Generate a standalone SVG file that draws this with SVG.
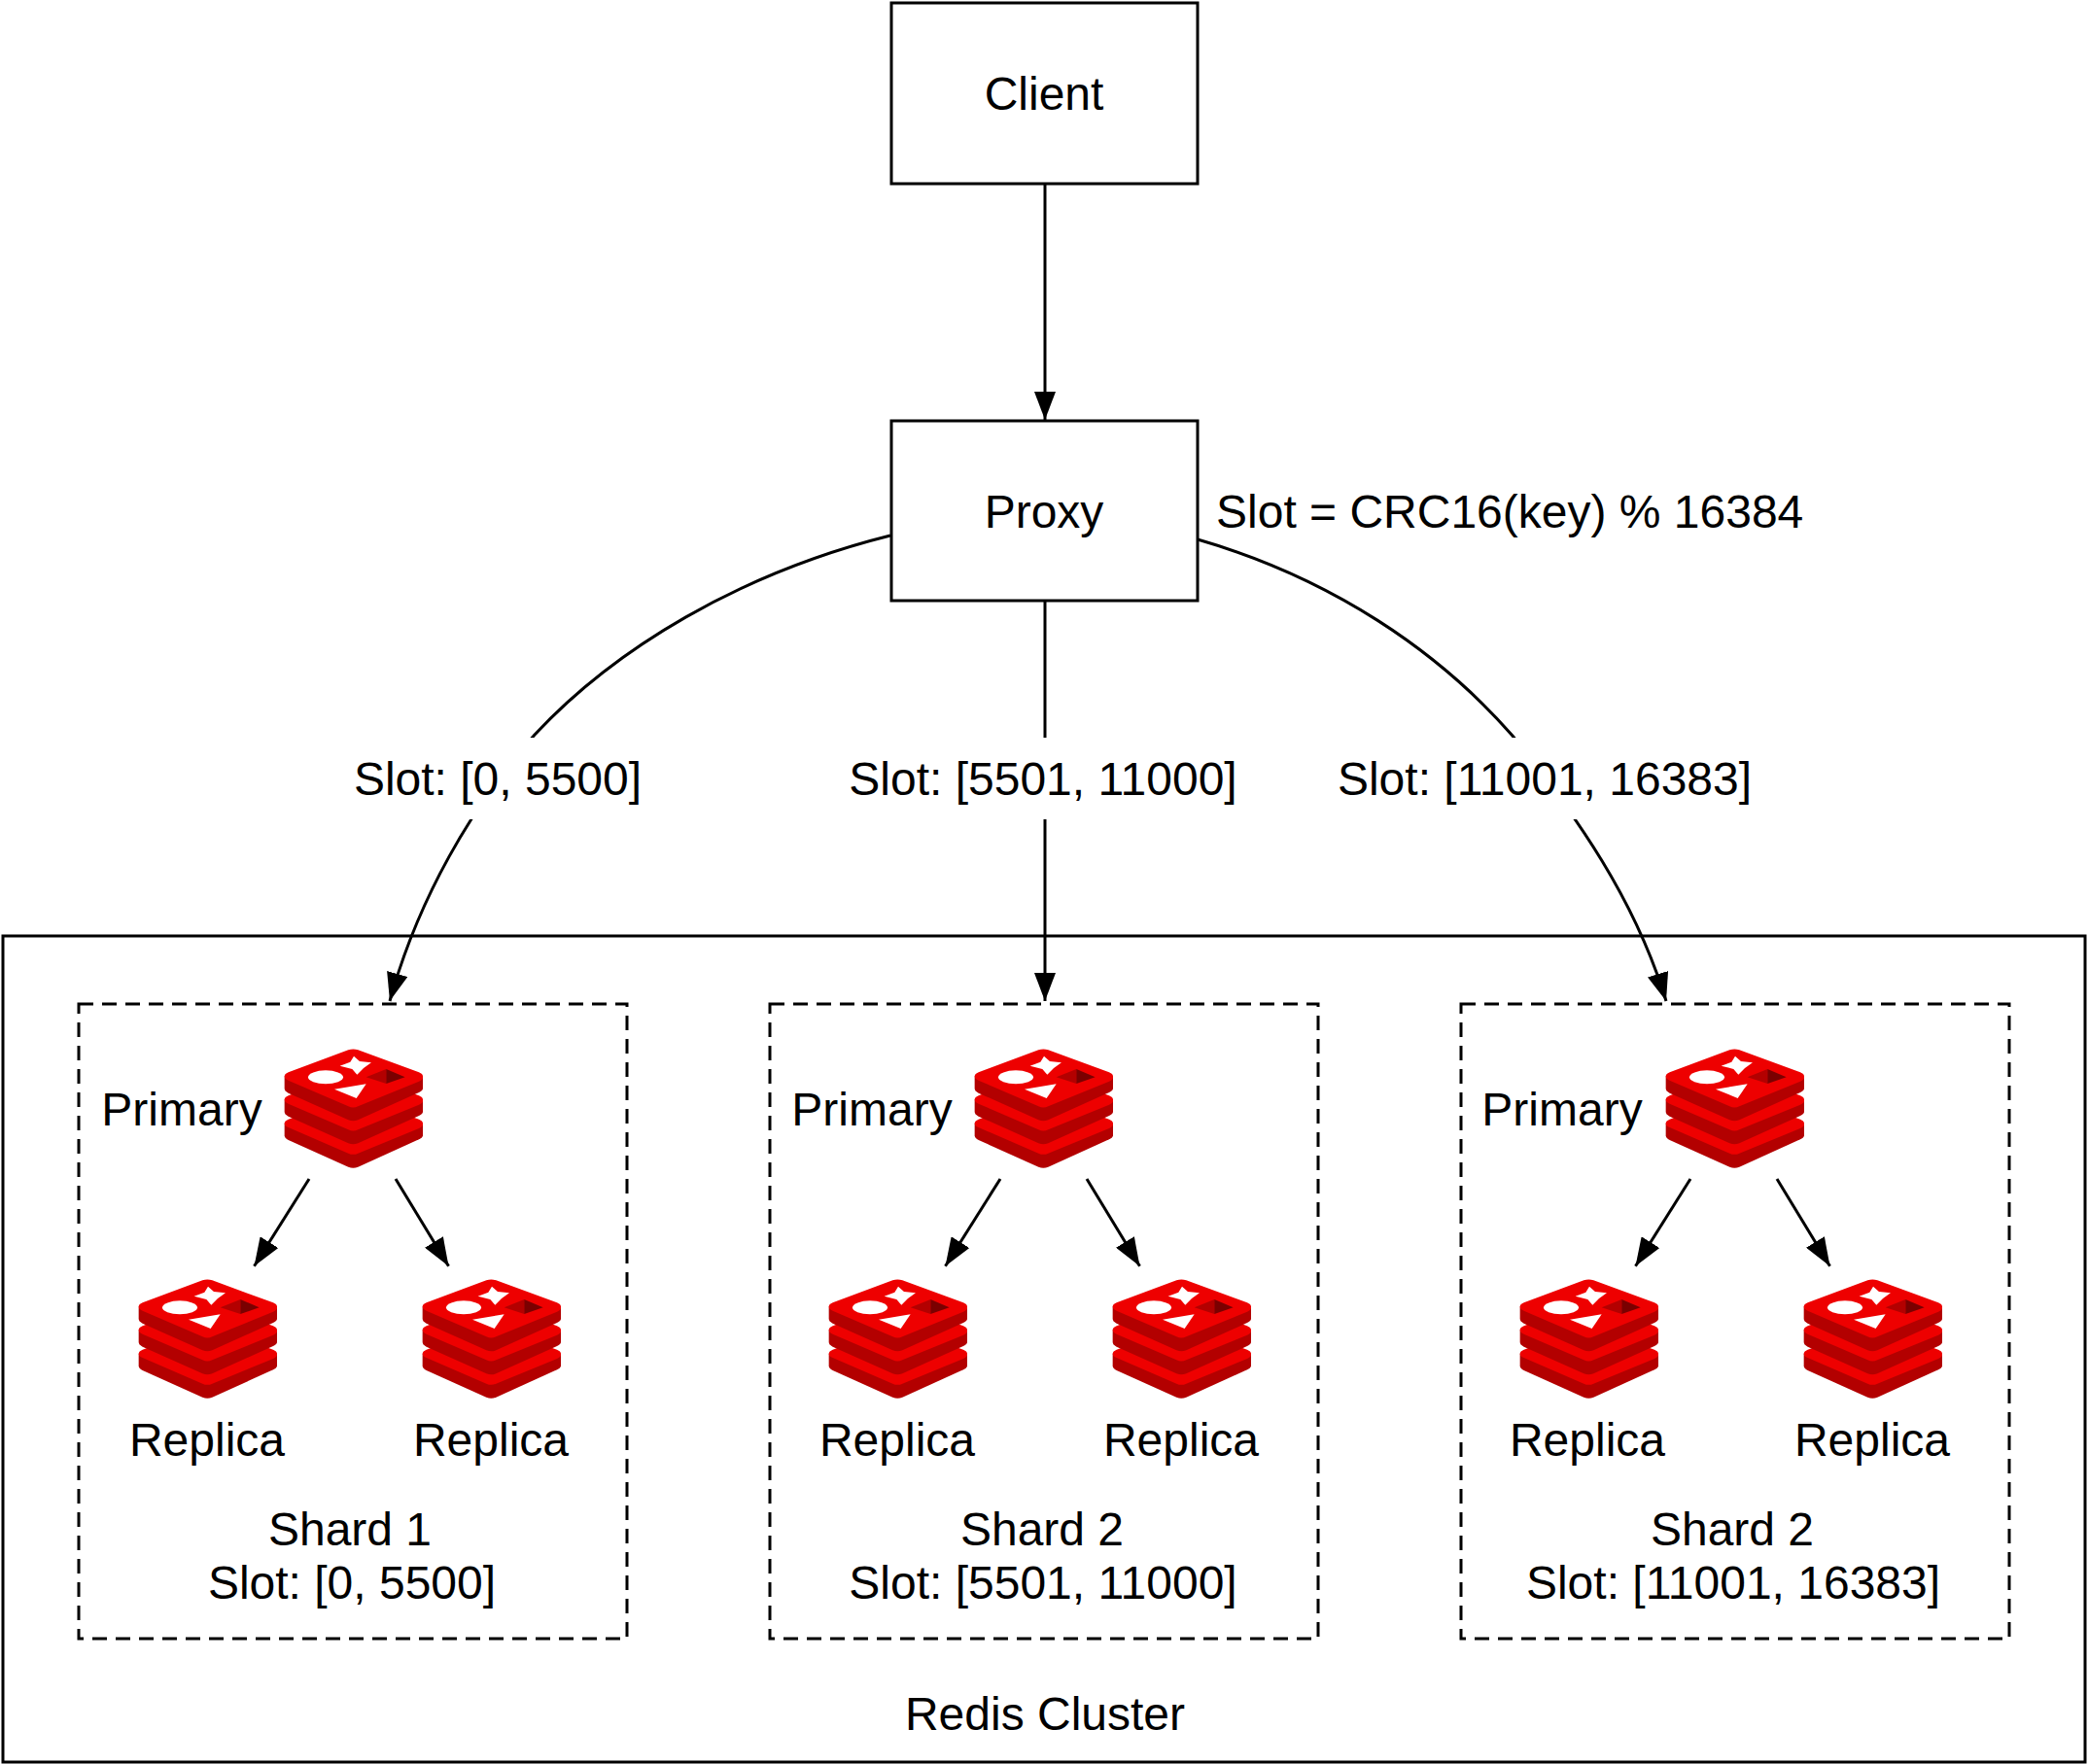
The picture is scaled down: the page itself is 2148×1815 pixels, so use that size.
<svg xmlns="http://www.w3.org/2000/svg" width="2148" height="1815" viewBox="0 0 2148 1815">
<style>
text{font-family:"Liberation Sans",Arial,sans-serif;font-size:48px;fill:#000;text-anchor:middle}
.box{fill:#fff;stroke:#000;stroke-width:3}
.shard{fill:none;stroke:#000;stroke-width:3;stroke-dasharray:15 9}
.edge{fill:none;stroke:#000;stroke-width:3}
.lt{fill:#ee0000}.dk{fill:#b30000}
</style>
<defs>
<marker id="arrow" markerUnits="userSpaceOnUse" markerWidth="30" markerHeight="22" refX="29" refY="11" orient="auto"><path d="M0 0L29 11L0 22Z" fill="#000"/></marker>
<g id="layer">
<path class="dk" d="M38 112V150Q38 158 50 164L235 247Q250 253 265 247L453 162Q465 156 465 150V112Z"/>
<path class="lt" d="M38 112Q38 105 50 100L235 31Q250 26 265 31L453 100Q465 105 465 112V116Q465 122 453 128L265 205Q250 212 235 205L50 125Q38 120 38 112Z"/>
</g>
<symbol id="redis" viewBox="0 0 510 420" width="170" height="140">
<use href="#layer" y="145"/><use href="#layer" y="72"/><use href="#layer"/>
<path fill="#fff" d="M252 50L270 66L306 70L282 87L262 107L247 90L209 80L241 68Z"/>
<ellipse fill="#fff" cx="165" cy="115" rx="54" ry="21"/>
<path fill="#fff" d="M192 152L290 136L260 180Z"/>
<path fill="#b30000" d="M290 115L352 90V135Z"/>
<path fill="#7a0000" d="M352 90L410 115L352 135Z"/>
</symbol>
</defs>
<rect width="2148" height="1815" fill="#fff"/>
<g id="redis-cluster"><rect class="box" x="3" y="963" width="2142" height="850"/><text x="1075" y="1780">Redis Cluster</text></g>
<g id="shard-1-box"><rect class="shard" x="81" y="1033" width="564" height="653"/><text x="360" y="1590">Shard 1</text><text x="362" y="1645">Slot: [0, 5500]</text></g>
<g id="shard-2-box"><rect class="shard" x="792" y="1033" width="564" height="653"/><text x="1072" y="1590">Shard 2</text><text x="1073" y="1645">Slot: [5501, 11000]</text></g>
<g id="shard-3-box"><rect class="shard" x="1503" y="1033" width="564" height="653"/><text x="1782" y="1590">Shard 2</text><text x="1783" y="1645">Slot: [11001, 16383]</text></g>
<g id="connectors">
<path class="edge" marker-end="url(#arrow)" d="M1075 189V432"/>
<path class="edge" marker-end="url(#arrow)" d="M1075 618V1030"/>
<path class="edge" marker-end="url(#arrow)" d="M916 551C760 590 632 668 550 756C485 830 430 925 401 1030"/>
<path class="edge" marker-end="url(#arrow)" d="M1232 555C1370 595 1480 670 1556 757C1622 840 1682 925 1714 1030"/>
<path class="edge" marker-end="url(#arrow)" d="M318 1213L261.500 1302.700"/>
<path class="edge" marker-end="url(#arrow)" d="M407 1213L461.500 1302.700"/>
<path class="edge" marker-end="url(#arrow)" d="M1029 1213L972.500 1302.700"/>
<path class="edge" marker-end="url(#arrow)" d="M1118 1213L1172.500 1302.700"/>
<path class="edge" marker-end="url(#arrow)" d="M1739 1213L1682.500 1302.700"/>
<path class="edge" marker-end="url(#arrow)" d="M1828 1213L1882.500 1302.700"/>
<rect x="350" y="759" width="320" height="84" fill="#fff"/><rect x="860" y="759" width="430" height="84" fill="#fff"/><rect x="1360" y="759" width="460" height="84" fill="#fff"/>
<text x="512" y="818">Slot: [0, 5500]</text>
<text x="1073" y="818">Slot: [5501, 11000]</text>
<text x="1589" y="818">Slot: [11001, 16383]</text>
</g>
<g id="client"><rect class="box" x="917" y="3" width="315" height="186"/><text x="1074" y="113">Client</text></g>
<g id="proxy"><rect class="box" x="917" y="433" width="315" height="185"/><text x="1074" y="543">Proxy</text><text x="1251" y="543" style="text-anchor:start">Slot = CRC16(key) % 16384</text></g>
<g id="shard-1-primary"><use href="#redis" x="280" y="1070"/><text x="187" y="1158">Primary</text></g>
<g id="shard-1-replica-1"><use href="#redis" x="130" y="1307"/><text x="213" y="1498">Replica</text></g>
<g id="shard-1-replica-2"><use href="#redis" x="422" y="1307"/><text x="505" y="1498">Replica</text></g>
<g id="shard-2-primary"><use href="#redis" x="990" y="1070"/><text x="897" y="1158">Primary</text></g>
<g id="shard-2-replica-1"><use href="#redis" x="840" y="1307"/><text x="923" y="1498">Replica</text></g>
<g id="shard-2-replica-2"><use href="#redis" x="1132" y="1307"/><text x="1215" y="1498">Replica</text></g>
<g id="shard-3-primary"><use href="#redis" x="1701" y="1070"/><text x="1607" y="1158">Primary</text></g>
<g id="shard-3-replica-1"><use href="#redis" x="1551" y="1307"/><text x="1633" y="1498">Replica</text></g>
<g id="shard-3-replica-2"><use href="#redis" x="1843" y="1307"/><text x="1926" y="1498">Replica</text></g>
</svg>
